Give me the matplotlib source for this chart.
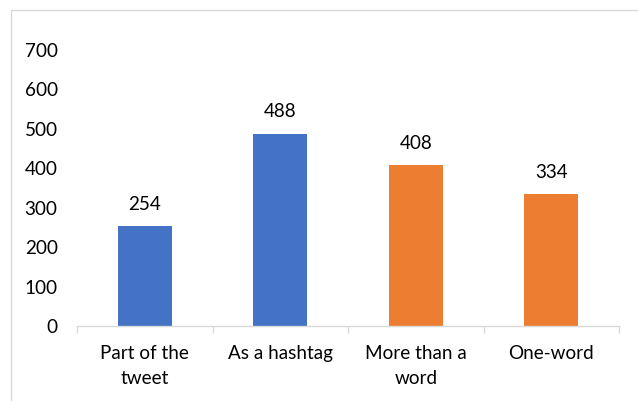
import matplotlib
matplotlib.use("Agg")
import matplotlib.pyplot as plt
from matplotlib.patches import Rectangle

categories = ["Part of the\ntweet", "As a hashtag", "More than a\nword", "One-word"]
values = [254, 488, 408, 334]
colors = ["#4472C4", "#4472C4", "#ED7D31", "#ED7D31"]
yticks = [0, 100, 200, 300, 400, 500, 600, 700]

plt.rcParams['font.family'] = ['Lato', 'DejaVu Sans']
FS = 13.6
W, H = 638, 401
fig = plt.figure(figsize=(W/100, H/100), dpi=100)
ax = fig.add_axes([77/W, 1-326/H, (619-77)/W, (326-50)/H])

x = list(range(len(categories)))
bars = ax.bar(x, values, width=0.4, color=colors, zorder=2)
for xi, v in zip(x, values):
    ax.annotate(str(v), (xi, v), xytext=(0, 9.5), textcoords="offset points",
                ha="center", va="bottom", fontsize=FS, color="#000000")

ax.set_xlim(-0.5, len(categories) - 0.5)
ax.set_ylim(0, 700)
ax.set_yticks(yticks)
ax.set_yticklabels([str(t) for t in yticks], fontsize=FS)
ax.set_xticks(x)
ax.set_xticklabels(categories, fontsize=FS, linespacing=1.55)
ax.set_xticks([i - 0.5 for i in range(len(categories) + 1)], minor=True)
ax.tick_params(axis='x', which='major', length=0, pad=14)
ax.tick_params(axis='x', which='minor', length=5, color="#D9D9D9", width=1)
ax.tick_params(axis='y', length=0, pad=14)
for s in ["top", "right", "left"]:
    ax.spines[s].set_visible(False)
ax.spines["bottom"].set_color("#D9D9D9")
ax.spines["bottom"].set_linewidth(1)

fig.patches.append(Rectangle((10.5/W, -0.1), 1.0, 1.1 - 9.5/H, transform=fig.transFigure,
                             fill=False, edgecolor="#D9D9D9", linewidth=1))

fig.savefig("out.png", dpi=100)
